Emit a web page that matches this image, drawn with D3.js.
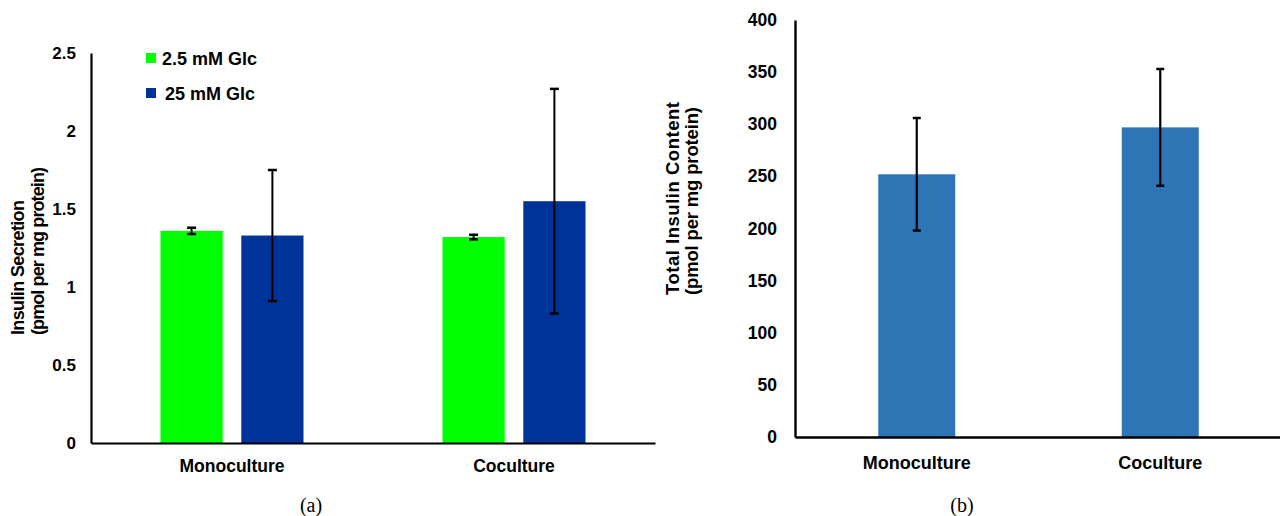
<!DOCTYPE html>
<html>
<head>
<meta charset="utf-8">
<script src="https://cdn.jsdelivr.net/npm/d3@7"></script>
<style>
  html, body { margin: 0; padding: 0; background: #fff; }
  svg { display: block; }
  text { font-family: "Liberation Sans", Arial, sans-serif; font-weight: bold; fill: #000; }
  .cap { font-family: "Liberation Serif", "DejaVu Serif", serif; font-weight: normal; }
</style>
</head>
<body>
<svg id="chart" width="1280" height="516"></svg>
<script>
// ---- Data ----
const categories = ["Monoculture", "Coculture"];
const seriesNames = ["2.5 mM Glc", "25 mM Glc"];
const secretionLow = [1.36, 1.32];
const secretionLowErr = [0.02, 0.015];
const secretionHigh = [1.33, 1.55];
const secretionHighErr = [0.42, 0.72];
const secretionTicks = [0, 0.5, 1, 1.5, 2, 2.5];
const content = [252, 297];
const contentErr = [54, 56];
const contentTicks = [0, 50, 100, 150, 200, 250, 300, 350, 400];

const colors = { "2.5 mM Glc": "#00ff00", "25 mM Glc": "#003399" };
const contentColor = "#2e75b6";

const svg = d3.select("#chart");

// ---------- Panel (a) ----------
{
  const y = d3.scaleLinear().domain([0, 2.5]).range([443, 53]);
  const x0 = d3.scaleBand().domain(categories).range([91, 655]);
  const x1 = d3.scaleBand().domain(seriesNames).range([-71.5, 71.5]).paddingInner(0.23);

  const rows = [];
  categories.forEach((c, i) => {
    rows.push({ cat: c, s: seriesNames[0], v: secretionLow[i], e: secretionLowErr[i] });
    rows.push({ cat: c, s: seriesNames[1], v: secretionHigh[i], e: secretionHighErr[i] });
  });

  const g = svg.append("g");
  g.selectAll("rect.bar").data(rows).enter().append("rect")
    .attr("x", d => x0(d.cat) + x0.bandwidth() / 2 + x1(d.s))
    .attr("width", x1.bandwidth())
    .attr("y", d => y(d.v))
    .attr("height", d => y(0) - y(d.v))
    .attr("fill", d => colors[d.s]);

  // error bars
  const eb = g.selectAll("g.err").data(rows).enter().append("g");
  const cx = d => x0(d.cat) + x0.bandwidth() / 2 + x1(d.s) + x1.bandwidth() / 2;
  eb.append("line").attr("x1", cx).attr("x2", cx)
    .attr("y1", d => y(d.v + d.e)).attr("y2", d => y(d.v - d.e))
    .attr("stroke", "#000").attr("stroke-width", 2);
  [1, -1].forEach(sg => {
    eb.append("line").attr("x1", d => cx(d) - 4.5).attr("x2", d => cx(d) + 4.5)
      .attr("y1", d => y(d.v + sg * d.e)).attr("y2", d => y(d.v + sg * d.e))
      .attr("stroke", "#000").attr("stroke-width", 2.5);
  });

  // axes
  const yAxis = d3.axisLeft(y).tickValues(secretionTicks).tickSize(0).tickPadding(15)
    .tickFormat(d => d3.format("")(d));
  const ya = g.append("g").attr("transform", "translate(91,0)").call(yAxis);
  ya.select(".domain").attr("stroke", "#000").attr("stroke-width", 2.2);
  ya.selectAll("text").style("font-size", "17px").attr("font-family", null);

  const xAxis = d3.axisBottom(x0).tickSize(0).tickPadding(17);
  const xa = g.append("g").attr("transform", "translate(0,443)").call(xAxis);
  xa.select(".domain").attr("stroke", "#000").attr("stroke-width", 2.2);
  xa.selectAll("text").style("font-size", "17.5px").attr("font-family", null);

  // y title
  const t = g.append("text").attr("transform", "translate(24,335) rotate(-90)")
    .style("font-size", "18px").attr("text-anchor", "start");
  t.append("tspan").attr("x", 0).attr("y", 0).attr("textLength", 135).text("Insulin Secretion");
  t.append("tspan").attr("x", 0).attr("y", 20).attr("textLength", 168).text("(pmol per mg protein)");

  // legend
  const lg = g.selectAll("g.leg").data(seriesNames).enter().append("g")
    .attr("transform", (d, i) => `translate(146,${58 + i * 35})`);
  lg.append("rect").attr("x", 0).attr("y", -5).attr("width", 10).attr("height", 10)
    .attr("fill", d => colors[d]);
  lg.append("text").attr("x", (d, i) => i === 0 ? 16 : 19).attr("y", 6.5)
    .style("font-size", "18px").text(d => d);

  g.append("text").attr("class", "cap").attr("x", 311).attr("y", 512)
    .attr("text-anchor", "middle").style("font-size", "20px").text("(a)");
}

// ---------- Panel (b) ----------
{
  const y = d3.scaleLinear().domain([0, 400]).range([437, 20]);
  const x = d3.scaleBand().domain(categories).range([795, 1282]);
  const bw = 77;
  const g = svg.append("g");
  const rows = categories.map((c, i) => ({ cat: c, v: content[i], e: contentErr[i] }));
  const cx = d => x(d.cat) + x.bandwidth() / 2;

  g.selectAll("rect").data(rows).enter().append("rect")
    .attr("x", d => cx(d) - bw / 2).attr("width", bw)
    .attr("y", d => y(d.v)).attr("height", d => y(0) - y(d.v))
    .attr("fill", contentColor);

  const eb = g.selectAll("g.err").data(rows).enter().append("g");
  eb.append("line").attr("x1", cx).attr("x2", cx)
    .attr("y1", d => y(d.v + d.e)).attr("y2", d => y(d.v - d.e))
    .attr("stroke", "#000").attr("stroke-width", 2.2);
  [1, -1].forEach(sg => {
    eb.append("line").attr("x1", d => cx(d) - 4).attr("x2", d => cx(d) + 4)
      .attr("y1", d => y(d.v + sg * d.e)).attr("y2", d => y(d.v + sg * d.e))
      .attr("stroke", "#000").attr("stroke-width", 2.5);
  });

  const ya = g.append("g").attr("transform", "translate(795,0)")
    .call(d3.axisLeft(y).tickValues(contentTicks).tickSize(0).tickPadding(18));
  ya.select(".domain").attr("stroke", "#000").attr("stroke-width", 2.4);
  ya.selectAll("text").style("font-size", "17.5px").attr("font-family", null);

  const xa = g.append("g").attr("transform", "translate(0,437)")
    .call(d3.axisBottom(x).tickSize(0).tickPadding(19));
  xa.select(".domain").attr("stroke", "#000").attr("stroke-width", 2.4);
  xa.selectAll("text").style("font-size", "18px").attr("font-family", null);

  const t = g.append("text").attr("transform", "translate(679,295) rotate(-90)")
    .style("font-size", "18.5px").attr("text-anchor", "start");
  t.append("tspan").attr("x", 0).attr("y", 0).attr("textLength", 193).text("Total Insulin Content");
  t.append("tspan").attr("x", 0).attr("y", 19).attr("textLength", 188).text("(pmol per mg protein)");

  g.append("text").attr("class", "cap").attr("x", 962).attr("y", 512)
    .attr("text-anchor", "middle").style("font-size", "20px").text("(b)");
}
</script>
</body>
</html>
